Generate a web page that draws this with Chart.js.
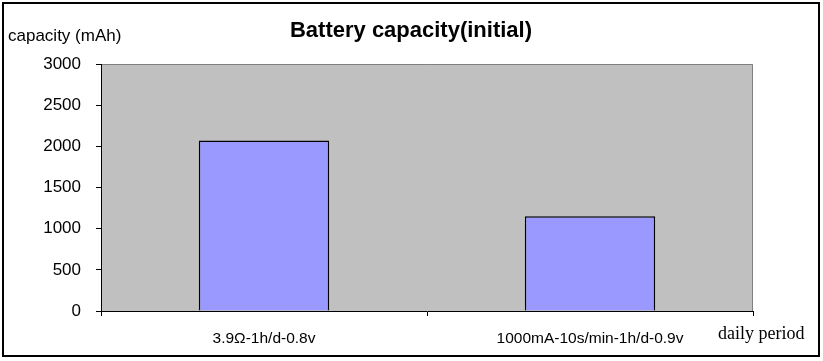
<!DOCTYPE html>
<html>
<head>
<meta charset="utf-8">
<script src="https://cdn.jsdelivr.net/npm/chart.js@4"></script>
<style>
html,body{margin:0;padding:0;background:#fff;}
#wrap{width:823px;height:361px;}
</style>
</head>
<body>
<div id="wrap"><canvas id="c" width="823" height="361"></canvas></div>
<script>
const categories = ["3.9\u03A9-1h/d-0.8v", "1000mA-10s/min-1h/d-0.9v"];
const capacity = [2070, 1150];
const yTicks = [0, 500, 1000, 1500, 2000, 2500, 3000];
const titleText = "Battery capacity(initial)";
const yAxisTitle = "capacity (mAh)";
const xAxisTitle = "daily period";

const decor = {
  id: 'decor',
  beforeDraw(chart) {
    const {ctx, chartArea: a} = chart;
    ctx.save();
    ctx.fillStyle = '#ffffff';
    ctx.fillRect(0, 0, chart.width, chart.height);
    ctx.fillStyle = '#C0C0C0';
    ctx.fillRect(a.left, a.top, a.right - a.left, a.bottom - a.top);
    ctx.strokeStyle = '#808080';
    ctx.lineWidth = 1;
    ctx.beginPath();
    ctx.moveTo(a.left, a.top + 0.5);
    ctx.lineTo(a.right - 0.5, a.top + 0.5);
    ctx.lineTo(a.right - 0.5, a.bottom);
    ctx.stroke();
    ctx.restore();
  },
  afterDraw(chart) {
    const {ctx} = chart;
    ctx.save();
    ctx.strokeStyle = '#000';
    ctx.lineWidth = 2;
    ctx.strokeRect(3, 3, 816, 353);
    ctx.fillStyle = '#000';
    ctx.textBaseline = 'middle';
    ctx.textAlign = 'center';
    ctx.font = 'bold 22px "Liberation Sans", Arial, sans-serif';
    ctx.fillText(titleText, 411, 31);
    ctx.textAlign = 'left';
    ctx.font = '17px "Liberation Sans", Arial, sans-serif';
    ctx.fillText(yAxisTitle, 8, 36);
    ctx.font = '18px "Liberation Serif", "Times New Roman", serif';
    ctx.fillText(xAxisTitle, 718, 334);
    ctx.restore();
  }
};

new Chart(document.getElementById('c'), {
  type: 'bar',
  data: {
    labels: categories,
    datasets: [{
      data: capacity,
      backgroundColor: '#9999FF',
      borderColor: '#000000',
      borderWidth: 1.5,
      barPercentage: 0.4,
      categoryPercentage: 1.0
    }]
  },
  options: {
    responsive: false,
    animation: false,
    devicePixelRatio: 1,
    layout: { padding: { left: 0, right: 70, top: 64, bottom: 0 } },
    plugins: { legend: { display: false }, title: { display: false }, tooltip: { enabled: false } },
    scales: {
      x: {
        offset: true,
        afterFit(s) { s.height = 50; },
        grid: { display: true, drawOnChartArea: false, offset: true, tickLength: 5, color: '#000' },
        border: { display: true, color: '#000', width: 1 },
        ticks: { color: '#000', padding: 13, font: { family: '"Liberation Sans", Arial, sans-serif', size: 15.5 }, maxRotation: 0 }
      },
      y: {
        min: 0, max: 3000,
        afterFit(s) { s.width = 101; },
        afterBuildTicks(s) { s.ticks = yTicks.map(v => ({ value: v })); },
        grid: { display: true, drawOnChartArea: false, tickLength: 5, color: '#000' },
        border: { display: true, color: '#000', width: 1 },
        ticks: { color: '#000', padding: 15, callback: v => String(v), font: { family: '"Liberation Sans", Arial, sans-serif', size: 17 } }
      }
    }
  },
  plugins: [decor]
});
</script>
</body>
</html>
